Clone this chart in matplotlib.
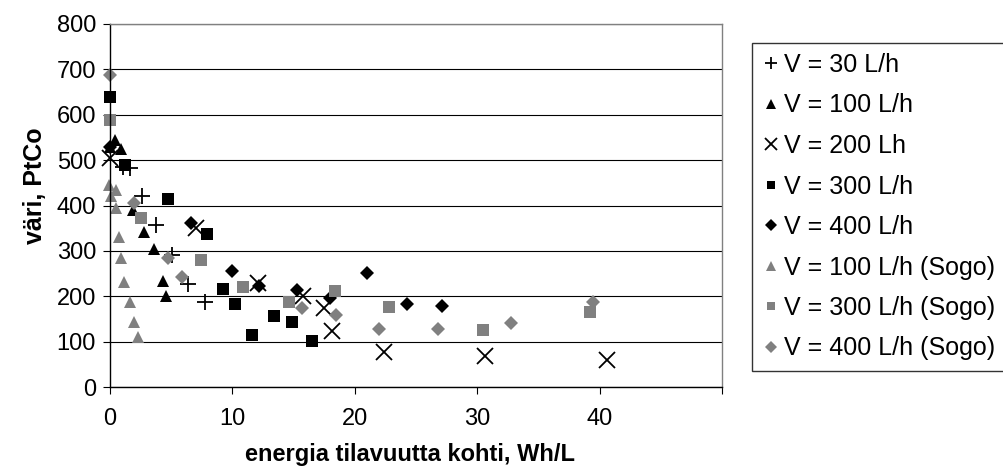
import matplotlib
matplotlib.use("Agg")
import matplotlib.pyplot as plt

plt.rcParams['font.family'] = ['Liberation Sans', 'DejaVu Sans']

# ---- data ----
x_30 = [1.1, 1.6, 2.6, 3.75, 5.1, 6.4, 7.75]
y_30 = [485, 482, 420, 358, 290, 228, 188]

x_100 = [0.0, 0.4, 0.9, 1.9, 2.8, 3.6, 4.3, 4.55]
y_100 = [530, 545, 525, 390, 342, 305, 234, 200]

x_200 = [0.0, 7.0, 12.1, 15.75, 17.5, 18.1, 22.4, 30.6, 40.6]
y_200 = [505, 350, 230, 200, 175, 124, 77, 68, 60]

x_300 = [0.0, 1.25, 4.75, 7.9, 9.25, 10.25, 11.6, 13.4, 14.9, 16.5]
y_300 = [640, 490, 415, 338, 216, 182, 114, 156, 143, 101]

x_400 = [0.0, 6.6, 10.0, 12.2, 15.25, 18.0, 21.0, 24.25, 27.1]
y_400 = [530, 362, 256, 222, 214, 197, 252, 183, 179]

x_s100 = [-0.05, 0.45, 0.05, 0.45, 0.75, 0.9, 1.15, 1.6, 1.95, 2.25]
y_s100 = [445, 434, 420, 395, 331, 284, 232, 188, 144, 111]

x_s300 = [0.0, 2.5, 7.45, 10.9, 14.6, 18.4, 22.8, 30.5, 39.25]
y_s300 = [588, 372, 280, 221, 187, 212, 177, 126, 165]

x_s400 = [0.0, 2.0, 4.75, 5.9, 15.7, 18.5, 22.0, 26.8, 32.8, 39.5]
y_s400 = [688, 405, 285, 243, 175, 159, 128, 128, 142, 187]

labels = ["V = 30 L/h", "V = 100 L/h", "V = 200 Lh", "V = 300 L/h",
          "V = 400 L/h", "V = 100 L/h (Sogo)", "V = 300 L/h (Sogo)",
          "V = 400 L/h (Sogo)"]

x_ticks = [0, 10, 20, 30, 40, 50]
x_tick_labels = ["0", "10", "20", "30", "40", ""]
y_ticks = [0, 100, 200, 300, 400, 500, 600, 700, 800]

GREY = '#808080'

W, H = 1004, 475
fig = plt.figure(figsize=(W / 100, H / 100), dpi=100)
L, R, B, T = 110, 722, 387, 24
ax = fig.add_axes([L / W, 1 - B / H, (R - L) / W, (B - T) / H])

kw = dict(linestyle='none', clip_on=False)
ax.plot(x_30, y_30, marker='+', color='black', markersize=12, markeredgewidth=1.3, label=labels[0], **kw)
ax.plot(x_100, y_100, marker='^', color='black', markersize=9, markeredgewidth=0, label=labels[1], **kw)
ax.plot(x_200, y_200, marker='x', color='black', markersize=12, markeredgewidth=1.3, label=labels[2], **kw)
ax.plot(x_300, y_300, marker='s', color='black', markersize=8, markeredgewidth=0, label=labels[3], **kw)
ax.plot(x_400, y_400, marker='D', color='black', markersize=7.5, markeredgewidth=0, label=labels[4], **kw)
ax.plot(x_s100, y_s100, marker='^', color=GREY, markersize=9, markeredgewidth=0, label=labels[5], **kw)
ax.plot(x_s300, y_s300, marker='s', color=GREY, markersize=8, markeredgewidth=0, label=labels[6], **kw)
ax.plot(x_s400, y_s400, marker='D', color=GREY, markersize=7.5, markeredgewidth=0, label=labels[7], **kw)

ax.set_xlim(0, 50)
ax.set_ylim(0, 800)
ax.set_xticks(x_ticks, x_tick_labels)
ax.set_yticks(y_ticks)
ax.tick_params(axis='both', direction='out', length=5, width=0.8, labelsize=17, color='black')
ax.tick_params(axis='y', pad=5)
ax.tick_params(axis='x', pad=10)
ax.grid(axis='y', color='black', linewidth=0.8)
ax.set_axisbelow(True)
for s in ['left', 'bottom']:
    ax.spines[s].set_color('black')
    ax.spines[s].set_linewidth(1.0)
for s in ['top', 'right']:
    ax.spines[s].set_color(GREY)
    ax.spines[s].set_linewidth(1.0)

fig.text(410 / W, 1 - 455 / H, "energia tilavuutta kohti, Wh/L", ha='center', va='center',
         fontsize=17, fontweight='bold')
fig.text(35 / W, 1 - 186 / H, "väri, PtCo", ha='center', va='center', rotation=90,
         fontsize=18, fontweight='bold')

leg = ax.legend(loc='upper left', bbox_to_anchor=(752 / W, 1 - 43 / H), bbox_transform=fig.transFigure,
                fontsize=18, frameon=True, fancybox=False, edgecolor='black', borderpad=0.4,
                labelspacing=0.66, handlelength=0.7, handletextpad=0.2, markerscale=0.75,
                borderaxespad=0)
leg.get_frame().set_linewidth(1.0)

fig.savefig("out.png", dpi=100)
